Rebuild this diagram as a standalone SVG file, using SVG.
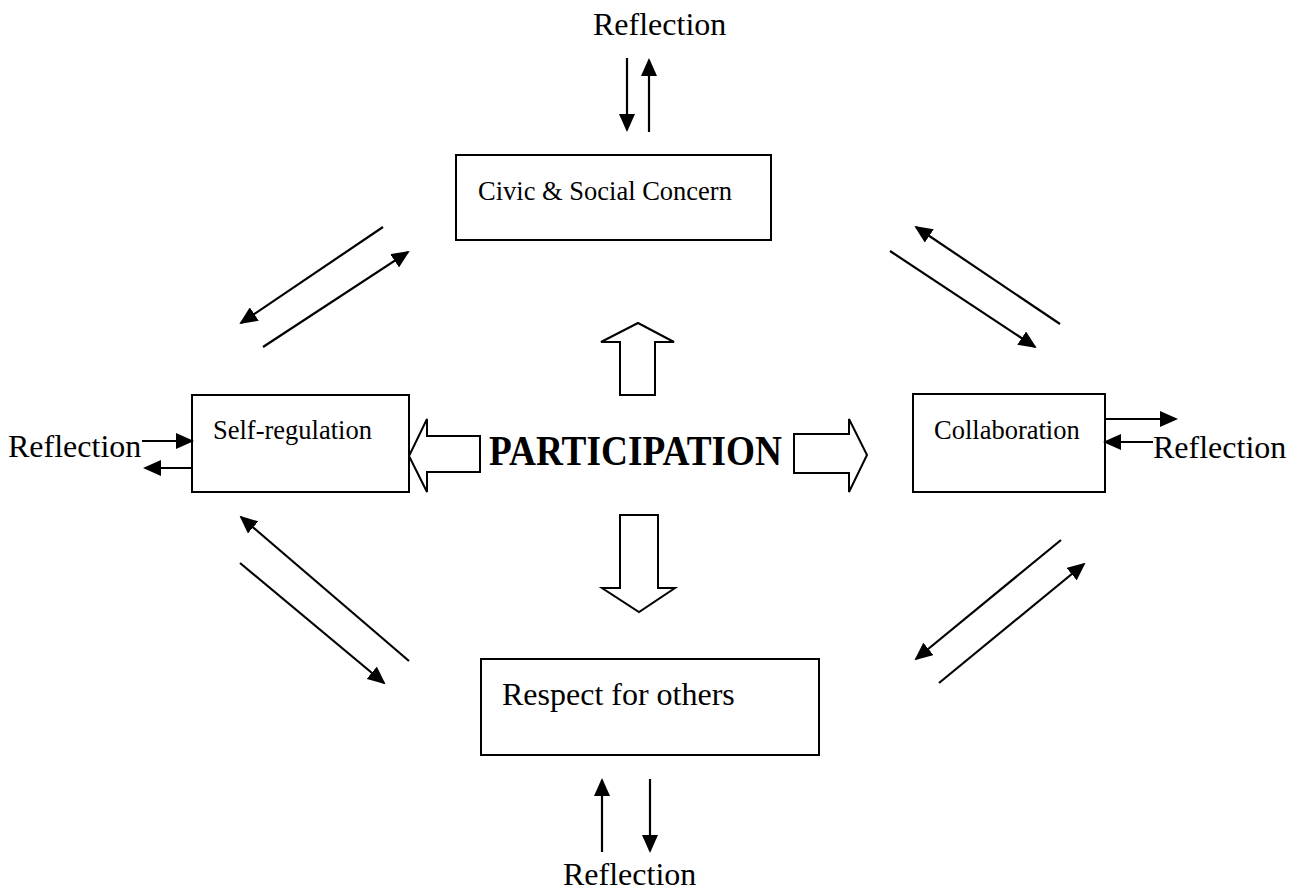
<svg xmlns="http://www.w3.org/2000/svg" width="1309" height="891" viewBox="0 0 1309 891">
<style>
.box{fill:#fff;stroke:#000;stroke-width:2}
.hollow{fill:#fff;stroke:#000;stroke-width:2;stroke-linejoin:miter}
.con{stroke:#000;stroke-width:2.2;fill:none;marker-end:url(#ah)}
.t{font-family:"Liberation Serif","Times New Roman",serif;fill:#000}
.lbl{font-size:26.5px}
.ref{font-size:32px}
</style>
<defs>
<marker id="ah" markerUnits="userSpaceOnUse" markerWidth="18" markerHeight="16" refX="16" refY="8" orient="auto" viewBox="0 0 18 16">
<path d="M0,0 L18,8 L0,16 z" fill="#000"/>
</marker>
</defs>
<rect width="1309" height="891" fill="#fff"/>

<g id="civic">
<rect class="box" x="456" y="155" width="315" height="85"/>
<text class="t lbl" x="478" y="200">Civic &amp; Social Concern</text>
</g>
<g id="self-regulation">
<rect class="box" x="192" y="395" width="217" height="97"/>
<text class="t lbl" x="213" y="439">Self-regulation</text>
</g>
<g id="collaboration">
<rect class="box" x="913" y="394" width="192" height="98"/>
<text class="t lbl" x="934" y="439">Collaboration</text>
</g>
<g id="respect">
<rect class="box" x="481" y="659" width="338" height="96"/>
<text class="t ref" x="502" y="705">Respect for others</text>
</g>
<g id="participation">
<text class="t" x="489" y="465" font-size="43" font-weight="bold" textLength="293" lengthAdjust="spacingAndGlyphs">PARTICIPATION</text>
</g>
<g id="reflection-top"><text class="t ref" x="593" y="35">Reflection</text></g>
<g id="reflection-left"><text class="t ref" x="8" y="457">Reflection</text></g>
<g id="reflection-right"><text class="t ref" x="1153" y="458">Reflection</text></g>
<g id="reflection-bottom"><text class="t ref" x="563" y="885">Reflection</text></g>

<g id="connectors">
<polygon class="hollow" points="480,436 427,436 427,419 409,456 427,492 427,472 480,472"/>
<polygon class="hollow" points="794,434 849,434 849,419 867,455 849,492 849,473 794,473"/>
<polygon class="hollow" points="620,395 620,342 601,342 638,323 674,342 655,342 655,395"/>
<polygon class="hollow" points="620,515 658,515 658,588 675,588 639,612 602,588 620,588"/>

<line class="con" x1="627" y1="58" x2="627" y2="130"/>
<line class="con" x1="649" y1="132" x2="649" y2="60"/>
<line class="con" x1="142" y1="441" x2="192" y2="441"/>
<line class="con" x1="192" y1="468" x2="145" y2="468"/>
<line class="con" x1="1105" y1="419" x2="1176" y2="419"/>
<line class="con" x1="1153" y1="442" x2="1105" y2="442"/>
<line class="con" x1="602" y1="852" x2="602" y2="780"/>
<line class="con" x1="650" y1="779" x2="650" y2="851"/>

<line class="con" x1="383" y1="227" x2="241" y2="323"/>
<line class="con" x1="263" y1="347" x2="408" y2="252"/>
<line class="con" x1="1060" y1="324" x2="916" y2="227"/>
<line class="con" x1="890" y1="251" x2="1035" y2="347"/>
<line class="con" x1="409" y1="661" x2="241" y2="517"/>
<line class="con" x1="240" y1="563" x2="384" y2="683"/>
<line class="con" x1="1061" y1="540" x2="916" y2="659"/>
<line class="con" x1="939" y1="683" x2="1084" y2="564"/>
</g>
</svg>
